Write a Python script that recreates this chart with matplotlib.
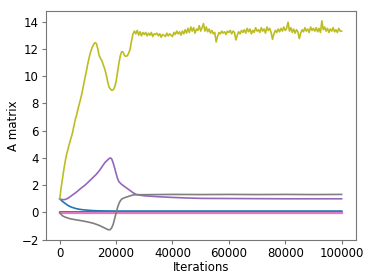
import numpy as np
import matplotlib
matplotlib.use("Agg")
import matplotlib.pyplot as plt

# iteration grid for the noisy olive trace (every 500 iterations)
it_olive = np.arange(0, 100001, 500)
a_olive = [
    1.0, 1.8, 2.5, 3.2, 3.8, 4.3, 4.7, 5.1, 5.45, 5.8,
    6.3, 6.8, 7.15, 7.6, 8.0, 8.4, 8.85, 9.4, 9.9, 10.4,
    10.95, 11.4, 11.8, 12.1, 12.3, 12.45, 12.4, 12.0, 11.5, 11.3,
    11.1, 10.8, 10.5, 10.1, 9.6, 9.2, 9.05, 8.95, 9.0, 9.2,
    9.6, 10.3, 10.95, 11.5, 11.8, 11.75, 11.5, 11.45, 11.5, 11.7,
    12.0, 12.6, 13.1, 13.3, 13.1, 13.35, 13.0, 13.25, 12.95, 13.2,
    13.05,
    13.2, 12.95, 13.15, 13.0, 13.2, 12.9, 13.1, 13.05, 13.15, 12.95,
    13.1, 12.85, 13.05, 13.0, 12.9, 13.15, 12.95, 13.1, 13.0, 12.9,
    13.2, 13.05, 13.3, 13.1, 13.25, 13.0, 13.3, 13.1, 13.4, 13.15,
    13.5, 13.2, 13.6, 13.3, 13.55, 13.15, 13.45, 13.35, 13.7, 13.3,
    13.55, 13.85, 13.3, 13.6, 13.25, 13.45, 13.15, 13.35, 13.1, 13.2,
    12.5, 12.9, 13.2, 13.1, 13.3, 13.15, 13.25, 13.05, 13.3, 13.2,
    13.35, 13.1, 13.3, 13.2, 12.65, 13.0, 13.25, 13.1, 13.35, 13.2,
    13.4, 13.15, 13.5, 13.25, 13.45, 13.1, 13.35, 13.2, 13.55, 13.3,
    13.4, 13.2, 13.55, 13.3, 13.45, 13.15, 13.6, 13.35, 13.5, 13.2,
    12.7, 13.1, 13.35, 13.2, 13.45, 13.25, 13.5, 13.3, 13.6, 13.35,
    13.5, 13.95, 13.3, 13.55, 13.2, 13.45, 13.15, 13.4, 13.25, 12.75,
    13.15, 13.4, 13.25, 13.55, 13.3, 13.45, 13.2, 13.6, 13.35, 13.5,
    13.3, 13.55, 13.25, 13.5, 13.2, 14.05, 13.4, 13.6, 13.3, 13.5,
    13.2, 13.45, 13.3, 13.55, 13.25, 13.4, 13.2, 13.5, 13.3, 13.3,
]

it_purple = [0, 1000, 2000, 3000, 4000, 5000, 6000, 7000, 8000, 9000,
             10000, 11000, 12000, 13000, 14000, 15000, 16000, 17000, 17500, 18000,
             18500, 19000, 19500, 20000, 20500, 21000, 22000, 23000, 24000, 25000,
             26000, 27000, 28000, 30000, 35000, 40000, 45000, 50000, 60000, 70000,
             80000, 90000, 100000]
a_purple = [1.0, 0.93, 0.95, 1.05, 1.2, 1.35, 1.5, 1.68, 1.85, 2.0,
            2.2, 2.4, 2.6, 2.8, 3.05, 3.35, 3.65, 3.85, 3.95, 4.0,
            3.9, 3.6, 3.25, 2.85, 2.5, 2.25, 2.05, 1.9, 1.75, 1.6,
            1.45, 1.33, 1.28, 1.22, 1.15, 1.1, 1.06, 1.03, 1.02, 1.01,
            1.0, 1.0, 1.0]

it_gray = [0, 500, 1000, 2000, 3000, 4000, 6000, 8000, 10000, 12000,
           14000, 15000, 16000, 17000, 17500, 18000, 18500, 19000, 19500, 20000,
           20500, 21000, 21500, 22000, 23000, 24000, 25000, 26000, 27000, 30000,
           40000, 50000, 60000, 70000, 80000, 90000, 100000]
a_gray = [0.0, -0.15, -0.25, -0.35, -0.42, -0.48, -0.55, -0.62, -0.7, -0.8,
          -0.95, -1.05, -1.15, -1.25, -1.28, -1.25, -1.1, -0.85, -0.45, -0.05,
          0.35, 0.65, 0.85, 0.98, 1.08, 1.15, 1.22, 1.28, 1.3, 1.3,
          1.32, 1.31, 1.32, 1.31, 1.32, 1.31, 1.32]

it_blue = [0, 1000, 2000, 3000, 4000, 5000, 6000, 7000, 8000, 10000,
           12000, 15000, 20000, 100000]
a_blue = [1.0, 0.8, 0.65, 0.5, 0.4, 0.33, 0.27, 0.23, 0.2, 0.16,
          0.13, 0.11, 0.1, 0.1]

# entries that stay at zero the whole run
it_flat = [0, 100000]
a_orange = [0.02, 0.02]
a_green = [-0.02, -0.02]
a_red = [0.0, 0.0]
a_brown = [-0.03, -0.03]
a_pink = [-0.01, -0.01]

plt.rcParams['font.size'] = 8.5
plt.rcParams['lines.linewidth'] = 1.2
fig = plt.figure(figsize=(3.74, 2.8), dpi=100)
ax = fig.add_axes([0.122, 0.143, 0.829, 0.818])

ax.plot(it_blue, a_blue, color='tab:blue')
ax.plot(it_flat, a_orange, color='tab:orange')
ax.plot(it_flat, a_green, color='tab:green')
ax.plot(it_flat, a_red, color='tab:red')
ax.plot(it_purple, a_purple, color='tab:purple')
ax.plot(it_flat, a_brown, color='tab:brown')
ax.plot(it_flat, a_pink, color='tab:pink', lw=1.6)
ax.plot(it_gray, a_gray, color='tab:gray')
ax.plot(it_olive, a_olive, color='tab:olive')

ax.set_ylim(-2.02, 14.78)
ax.set_yticks([-2, 0, 2, 4, 6, 8, 10, 12, 14])
ax.set_xticks([0, 20000, 40000, 60000, 80000, 100000])
ax.set_xlabel("Iterations", labelpad=1)
ax.set_ylabel("A matrix", labelpad=1)
for s in ax.spines.values():
    s.set_color('#777777')
ax.tick_params(length=3, color='#777777', pad=2)

fig.savefig("out.png", dpi=100)
